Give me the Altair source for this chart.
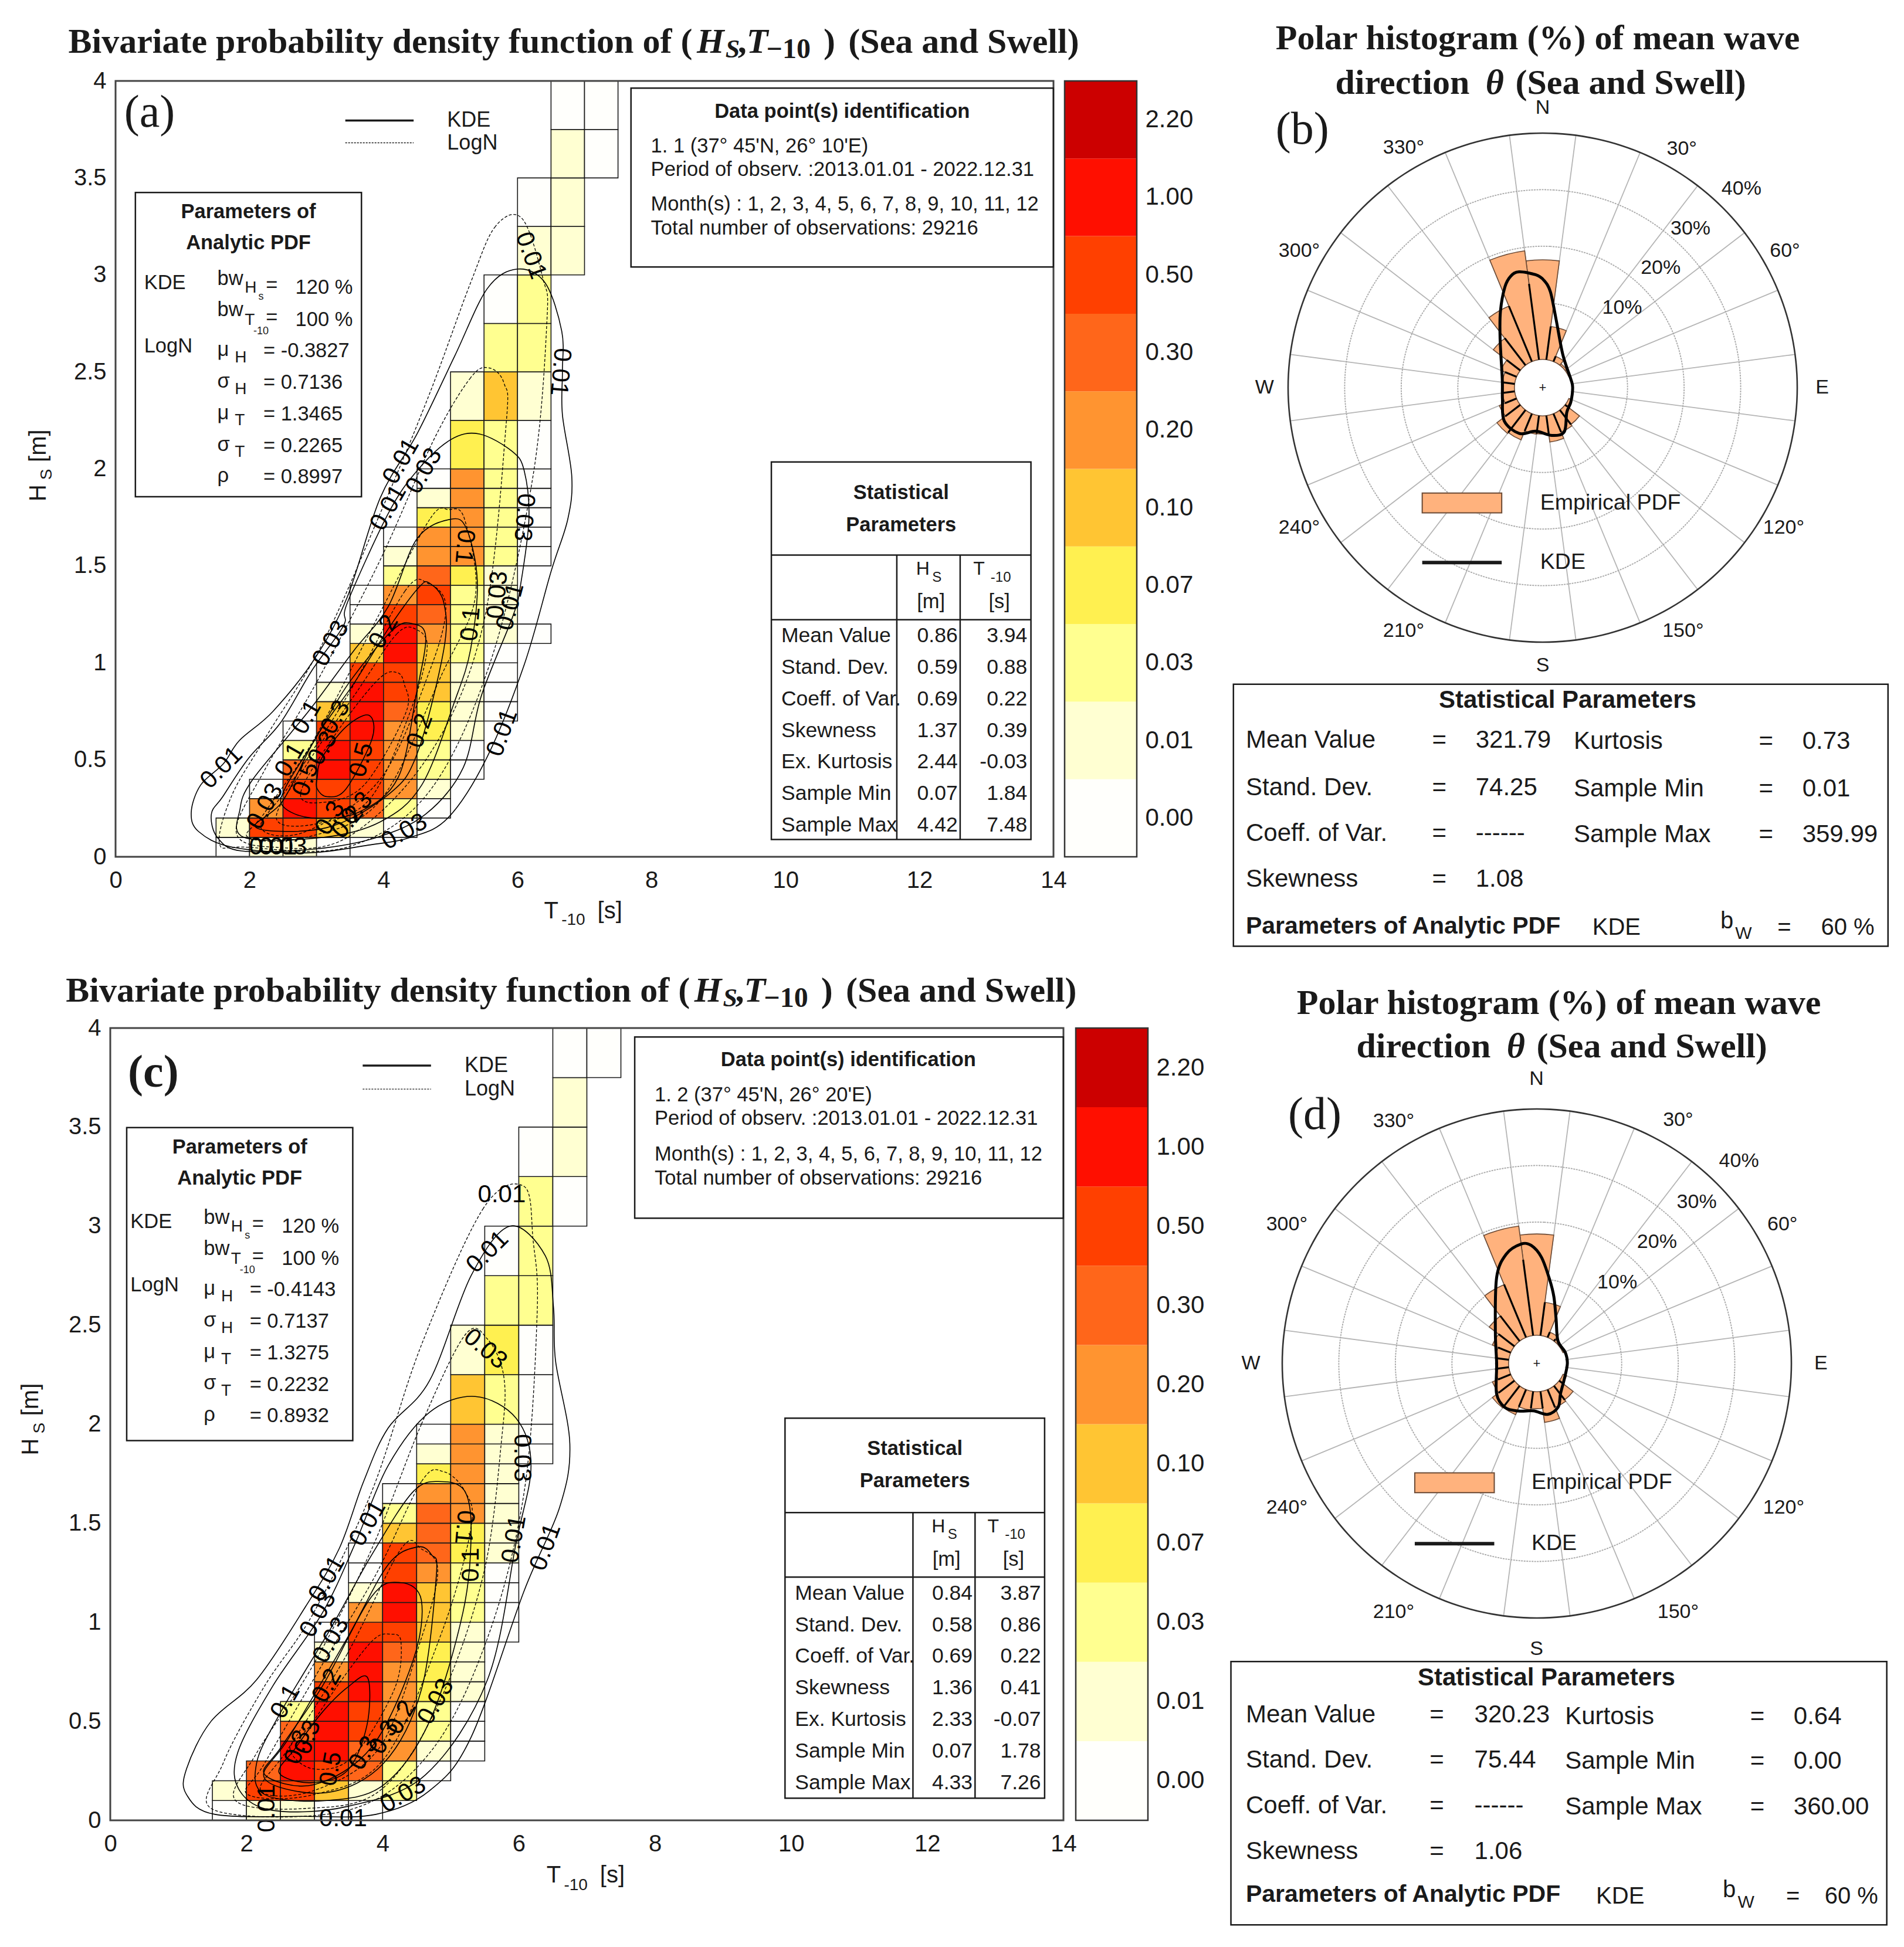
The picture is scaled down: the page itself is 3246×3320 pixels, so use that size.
import math
import numpy as np
import pandas as pd
import altair as alt

S = 2.1176
SANS = "Liberation Sans"
SERIF = "Liberation Serif"
INK = "#1a1a1a"
BODY = 34.5

LEVELS = ['0.00', '0.01', '0.03', '0.07', '0.10', '0.20', '0.30', '0.50', '1.00', '2.20']
LEVEL_COLORS = ['#fffffc', '#ffffd2', '#ffff90', '#fff050', '#ffc533', '#ff9430', '#ff661a', '#ff4000', '#ff0f00', '#cc0000']
H_EDGES = [0, .1, .2, .3, .4, .5, .6, .7, .8, .9, 1.0, 1.1, 1.2, 1.3, 1.4, 1.5, 1.6, 1.7, 1.8, 1.9, 2.0,
           2.25, 2.5, 2.75, 3.0, 3.25, 3.5, 3.75, 4.0]

# (T start, H start, level indexes going upward)
A_COLUMNS = [
    (1.5, 0, [0, 1]),
    (2.0, 0, [1, 7, 5, 0]),
    (2.5, 0, [1, 7, 8, 7, 6, 2, 0]),
    (3.0, 0, [0, 4, 7, 7, 8, 8, 7, 4, 1, 0]),
    (3.5, .1, [1, 6, 7, 7, 7, 8, 8, 8, 7, 4, 1, 0, 0]),
    (4.0, .1, [0, 2, 5, 5, 5, 5, 6, 7, 7, 8, 8, 7, 5, 2, 1, 0]),
    (4.5, .2, [0, 1, 2, 2, 3, 3, 4, 4, 4, 5, 6, 7, 6, 5, 5, 3, 1, 0]),
    (5.0, .4, [0, 0, 1, 1, 1, 1, 2, 2, 2, 2, 3, 5, 5, 5, 5, 5, 3, 1]),
    (5.5, .7, [0, 0, 0, 0, 1, 1, 1, 1, 2, 2, 2, 2, 2, 2, 4, 2, 0]),
    (6.0, 1.1, [0]),
    (6.0, 1.5, [0, 0, 0, 0, 0, 0, 1, 2, 2, 1, 0]),
    (6.5, 3.0, [1, 1, 1, 0]),
    (7.0, 3.5, [0, 0]),
]
C_COLUMNS = [
    (1.5, 0, [0, 1]),
    (2.0, 0, [1, 7, 6]),
    (2.5, 0, [1, 7, 8, 8, 6, 2]),
    (3.0, 0, [0, 4, 7, 8, 8, 8, 7, 5, 1, 0]),
    (3.5, 0, [0, 1, 6, 6, 7, 7, 8, 8, 8, 7, 5, 1, 0, 0]),
    (4.0, .1, [2, 2, 5, 5, 5, 5, 5, 6, 7, 8, 8, 7, 7, 4, 2, 0]),
    (4.5, .2, [0, 1, 2, 2, 3, 3, 3, 4, 4, 4, 5, 6, 6, 6, 5, 3, 1, 0]),
    (5.0, .3, [0, 0, 0, 1, 1, 1, 1, 2, 2, 2, 3, 3, 5, 5, 5, 5, 5, 4, 1]),
    (5.5, .9, [0, 0, 0, 0, 1, 1, 1, 1, 1, 1, 1, 2, 3, 2, 0]),
    (6.0, 1.8, [0, 0, 0, 0, 2, 2, 2, 0]),
    (6.5, 3.0, [0, 1, 1, 0]),
    (7.0, 3.75, [0]),
]

A_KDE_01 = [(1.27, .37), (1.61, .48), (1.85, .60), (2.35, .75), (2.97, 1.02), (3.46, 1.34), (3.95, 1.85), (4.50, 2.18), (5.06, 2.58), (5.55, 2.93), (6.00, 3.03), (6.41, 2.96), (6.66, 2.71), (6.67, 2.50), (6.67, 2.28), (6.81, 1.96), (6.75, 1.74), (6.50, 1.47), (6.10, .99), (5.54, .51), (4.96, .2), (4.4, .1), (3.77, .06), (2.84, .02), (1.74, .05), (1.24, .13), (1.13, .23)]
A_KDE_03 = [(1.43, .22), (1.60, .31), (1.99, .51), (2.46, .69), (2.93, .96), (3.40, 1.19), (3.46, 1.31), (4.07, 1.77), (4.50, 1.99), (5.0, 2.15), (5.43, 2.18), (5.92, 2.09), (6.10, 1.99), (6.17, 1.74), (6.04, 1.39), (5.93, 1.24), (5.46, .83), (5.19, .46), (4.63, .22), (3.9, .1), (2.97, .04), (1.88, .03), (1.52, .10)]
A_KDE_1 = [(1.86, .25), (2.03, .39), (2.62, .64), (2.97, .79), (3.55, 1.06), (4.07, 1.29), (4.5, 1.64), (5.0, 1.74), (5.24, 1.69), (5.40, 1.42), (5.30, 1.07), (5.06, .8), (4.57, .37), (3.95, .18), (3.09, .10), (1.92, .10)]
A_KDE_2 = [(2.5, .29), (3.0, .62), (3.55, .89), (4.1, 1.19), (4.53, 1.39), (4.69, 1.41), (4.9, 1.31), (4.9, 1.07), (4.50, .53), (4.07, .32), (3.15, .15), (2.1, .15)]
A_KDE_3 = [(2.5, .26), (2.93, .2), (3.63, .23), (4.22, .41), (4.49, .84), (4.63, 1.13), (4.45, 1.2), (4.14, 1.17), (3.47, .89), (2.97, .6), (2.54, .36)]
A_KDE_5 = [(3.01, .35), (3.16, .31), (3.44, .35), (3.83, .61), (3.78, .73), (3.44, .67), (3.08, .51), (3.01, .41)]
A_LOG_01 = [(6.07, 3.29), (5.67, 3.25), (5.3, 2.96), (4.69, 2.39), (3.95, 1.77), (3.09, 1.10), (2.23, .61), (1.74, .32), (1.55, .07), (1.92, .05), (3.46, .05), (4.69, .34), (5.61, 1.02), (6.23, 1.96), (6.44, 2.77), (6.38, 2.98)]
A_LOG_03 = [(5.58, 2.52), (5.3, 2.47), (4.75, 2.15), (3.95, 1.53), (2.97, .88), (2.23, .45), (1.8, .13), (2.35, .05), (3.46, .1), (4.69, .53), (5.49, 1.2), (5.83, 2.23), (5.8, 2.44)]
A_LOG_1 = [(4.97, 1.79), (4.69, 1.74), (3.95, 1.26), (2.97, .61), (2.23, .23), (1.98, .10), (2.84, .1), (3.95, .29), (4.87, .94), (5.37, 1.34), (5.21, 1.74)]
A_LOG_2 = [(4.66, 1.41), (4.32, 1.37), (3.46, .83), (2.6, .37), (2.17, .15), (2.84, .13), (3.95, .4), (4.69, .96), (4.93, 1.29)]
A_LOG_3 = [(4.5, 1.17), (4.2, 1.15), (3.6, .85), (2.9, .5), (2.4, .2), (3.0, .17), (3.8, .3), (4.4, .75), (4.65, 1.07)]
A_LOG_5 = [(4.2, .95), (3.94, .92), (3.4, .69), (2.77, .34), (3.08, .28), (3.71, .37), (4.33, .74), (4.31, .89)]

C_KDE_01 = [(5.87, 3.0), (5.3, 2.75), (4.69, 2.22), (4.08, 1.98), (3.72, 1.71), (3.36, 1.37), (2.87, 1.08), (2.15, .71), (1.48, .5), (1.12, .26), (1.12, .13), (1.54, .03), (2.87, .02), (3.9, .03), (4.69, .15), (5.3, .42), (6.08, 1.16), (6.6, 1.58), (6.75, 1.9), (6.54, 2.32), (6.51, 2.59), (6.39, 2.85)]
C_KDE_03 = [(5.96, 2.03), (5.36, 2.14), (4.69, 2.06), (4.08, 1.79), (3.6, 1.4), (3.12, 1.05), (2.39, .68), (1.87, .34), (1.9, .15), (2.39, .05), (3.48, .07), (4.63, .23), (5.54, .71), (5.96, 1.4), (6.18, 1.79)]
C_KDE_1 = [(4.87, 1.71), (4.45, 1.66), (3.84, 1.34), (3.24, .97), (2.51, .55), (2.15, .29), (2.27, .13), (3.18, .1), (4.02, .18), (4.69, .5), (5.18, 1.05), (5.3, 1.45), (5.21, 1.66)]
C_KDE_2 = [(4.51, 1.38), (4.08, 1.29), (3.48, .92), (2.63, .42), (2.27, .21), (3.18, .14), (4.02, .29), (4.57, .66), (4.79, 1.24), (4.72, 1.34)]
C_KDE_3 = [(4.27, 1.2), (3.84, 1.13), (3.12, .68), (2.51, .37), (2.27, .23), (2.99, .18), (3.84, .37), (4.45, .81), (4.57, 1.11)]
C_KDE_5 = [(3.78, .72), (3.48, .67), (3.1, .54), (2.71, .36), (2.48, .24), (2.94, .19), (3.48, .25), (3.77, .48)]
C_LOG_01 = [(6.08, 3.2), (5.48, 3.09), (4.57, 2.4), (3.84, 1.66), (2.99, 1.05), (2.27, .68), (1.66, .29), (1.54, .05), (3.48, .05), (4.69, .34), (5.54, .92), (6.08, 1.66), (6.27, 2.56), (6.21, 2.93)]
C_LOG_03 = [(5.21, 2.45), (4.57, 2.0), (3.84, 1.37), (2.99, .79), (2.15, .34), (1.84, .1), (2.87, .06), (3.96, .15), (4.81, .58), (5.48, 1.24), (5.75, 1.93), (5.78, 2.24), (5.54, 2.43)]
C_LOG_1 = [(4.9, 1.76), (4.57, 1.71), (3.9, 1.24), (3.12, .79), (2.27, .29), (2.02, .13), (2.99, .13), (4.02, .31), (4.87, .95), (5.3, 1.48), (5.21, 1.66)]
C_LOG_2 = [(4.27, 1.37), (3.48, .84), (2.63, .37), (2.21, .15), (2.99, .15), (3.96, .37), (4.57, .92), (4.81, 1.26), (4.57, 1.37)]
C_LOG_5 = [(4.11, .94), (3.86, .91), (3.4, .71), (2.94, .48), (2.64, .36), (2.98, .26), (3.56, .32), (4.17, .66), (4.27, .9)]

# contour labels: text, T, H, rotation
A_LABELS = [('0.01', 1.58, .46, -45), ('0.03', 3.21, 1.1, -60), ('0.1', 2.85, .72, -60), ('0.03', 2.23, .26, -60),
            ('0.3', 3.28, .72, -60), ('0.3', 3.09, .56, -60), ('0.5', 2.84, .40, -70), ('0.1', 2.6, .5, -60),
            ('0.5', 3.67, .5, -75), ('0.2', 4.0, 1.16, -60), ('0.01', 4.26, 2.04, -60), ('0.03', 4.6, 1.99, -60),
            ('0.01', 4.07, 1.8, -60), ('0.1', 5.21, 1.6, 95), ('0.1', 5.3, 1.2, -85), ('0.03', 5.7, 1.35, -85),
            ('0.01', 5.89, 1.29, -75), ('0.01', 5.77, .64, -70), ('0.2', 4.54, .65, -70), ('0.03', 4.31, .13, -30),
            ('0.2', 3.46, .18, -50), ('0.3', 3.2, .2, -60), ('0.3', 3.6, .25, -50), ('0.01', 6.2, 3.1, 70),
            ('0.01', 6.64, 2.5, 95), ('0.03', 6.1, 1.75, 95), ('0.01', 2.35, .05, 0), ('0.03', 2.5, .05, 0)]
C_LABELS = [('0.01', 5.75, 3.16, 0), ('0.01', 5.54, 2.87, -45), ('0.03', 5.51, 2.38, 40), ('0.03', 6.05, 1.83, 90),
            ('0.1', 5.2, 1.48, 95), ('0.1', 5.3, 1.29, -90), ('0.01', 5.93, 1.42, -80), ('0.01', 6.39, 1.38, -70),
            ('0.01', 3.78, 1.5, -60), ('0.01', 3.18, 1.22, -60), ('0.03', 3.05, 1.04, -60), ('0.03', 3.24, .91, -60),
            ('0.2', 3.18, .68, -60), ('0.1', 2.57, .6, -60), ('0.3', 2.9, .42, -70), ('0.3', 2.75, .37, -70),
            ('0.5', 3.24, .26, -80), ('0.3', 3.72, .34, -60), ('0.3', 4.02, .42, -60), ('0.2', 4.27, .52, -60),
            ('0.03', 4.78, .6, -60), ('0.03', 4.3, .13, -30), ('0.01', 3.42, .01, 0), ('0.01', 2.3, .06, -90)]

B_THETA = [0, 15, 30, 45, 60, 75, 90, 105, 120, 135, 150, 165, 180, 195, 210, 225, 240, 255, 270, 285, 300, 315, 330, 345]
B_BARS = [17.6, 5.9, 1.0, .3, .2, 0, 0, 0, .5, 3.2, 3.5, 4.7, 3.2, 3.3, 5.0, 5.2, 3.3, 2.2, 2.0, 2.2, 3.0, 6.0, 10.6, 19.4]
D_BARS = [17.9, 5.9, 1.0, .4, .1, 0, 0, 0, .7, 3.1, 3.4, 5.5, 3.0, 3.3, 4.8, 4.9, 3.5, 2.4, 2.3, 2.4, 3.5, 5.6, 10.1, 19.5]
B_KDE_T = [.6, 4.6, 11.3, 31.7, 72.6, 90, 117.5, 135.7, 154, 169, 189, 207, 229, 254, 282, 318.7, 331, 339.4, 344, 348.5, 356.4]
B_KDE_R = [14, 12, 7.2, 1.8, .2, .3, .6, 1.1, 3.7, 3.6, 2.8, 4.1, 4, 2.4, 2.3, 6.4, 10.4, 14, 15.5, 15.9, 15]
D_KDE_T = [2.5, 8.7, 14.3, 23, 42.7, 68, 90, 120, 142, 154, 168, 184, 201, 216, 233, 270, 308, 335, 344.5, 352.5, 357.3]
D_KDE_R = [13.8, 10, 7.2, 3.7, .5, .4, .4, .6, 1.8, 3.6, 4.2, 3.4, 4, 4.6, 3.9, 2.1, 4.3, 11.8, 15.1, 16.3, 15.9]

STAT_ROWS = ['Mean Value', 'Stand. Dev.', 'Coeff. of Var.', 'Skewness', 'Ex. Kurtosis', 'Sample Min', 'Sample Max']
A_HS = ['0.86', '0.59', '0.69', '1.37', '2.44', '0.07', '4.42']
A_TM = ['3.94', '0.88', '0.22', '0.39', '-0.03', '1.84', '7.48']
C_HS = ['0.84', '0.58', '0.69', '1.36', '2.33', '0.07', '4.33']
C_TM = ['3.87', '0.86', '0.22', '0.41', '-0.07', '1.78', '7.26']
A_PARAMS = ['-0.3827', '0.7136', '1.3465', '0.2265', '0.8997']
C_PARAMS = ['-0.4143', '0.7137', '1.3275', '0.2232', '0.8932']
B_DIR = ['321.79', '74.25', '------', '1.08', '0.73', '0.01', '359.99']
D_DIR = ['320.23', '75.44', '------', '1.06', '0.64', '0.00', '360.00']

ONE = pd.DataFrame({'k': [0]})


class Panel:
    def __init__(self, ox, oy):
        self.ox, self.oy = ox, oy
        self.items = []

    def anchor(self, x0, y0, x1, y1):
        self.items.append(alt.Chart(ONE).mark_rect(fill='white', opacity=0).encode(
            x=alt.value(x0 - self.ox), x2=alt.value(x1 - self.ox),
            y=alt.value(y0 - self.oy), y2=alt.value(y1 - self.oy)))

    def t(self, text, x, y, size=BODY, align='left', font=SANS, weight='normal', style='normal', angle=0, color=INK):
        mark = alt.Chart(ONE).mark_text(align=align, baseline='middle', font=font, fontSize=size, fontWeight=weight,
                                        fontStyle=style, angle=angle % 360, color=color)
        self.items.append(mark.encode(x=alt.value(x * S - self.ox), y=alt.value(y * S - self.oy), text=alt.value(text)))

    def box(self, x0, y0, x1, y1, fill='white', stroke=INK, sw=2.5):
        self.items.append(alt.Chart(ONE).mark_rect(fill=fill, stroke=stroke, strokeWidth=sw).encode(
            x=alt.value(x0 * S - self.ox), x2=alt.value(x1 * S - self.ox),
            y=alt.value(y0 * S - self.oy), y2=alt.value(y1 * S - self.oy)))

    def hl(self, x0, x1, y, sw=2.5, dash=None):
        kw = {'strokeDash': dash} if dash else {}
        self.items.append(alt.Chart(ONE).mark_rule(stroke=INK, strokeWidth=sw, **kw).encode(
            x=alt.value(x0 * S - self.ox), x2=alt.value(x1 * S - self.ox), y=alt.value(y * S - self.oy)))

    def vl(self, x, y0, y1, sw=2.5):
        self.items.append(alt.Chart(ONE).mark_rule(stroke=INK, strokeWidth=sw).encode(
            x=alt.value(x * S - self.ox), y=alt.value(y0 * S - self.oy), y2=alt.value(y1 * S - self.oy)))


def cells_frame(columns):
    rows = []
    for t0, h0, levels in columns:
        i0 = H_EDGES.index(h0)
        for j, lev in enumerate(levels):
            rows.append({'t0': t0, 't1': t0 + .5, 'h0': H_EDGES[i0 + j], 'h1': H_EDGES[i0 + j + 1], 'lev': LEVELS[lev]})
    return pd.DataFrame(rows)


def contour_frame(curves):
    rows = []
    for n, pts in enumerate(curves):
        for i, (t, h) in enumerate(pts):
            rows.append({'c': n, 'i': i, 'T': t, 'H': h})
    return pd.DataFrame(rows)


def heat_panel(p, w, h, columns, kde, logn, labels):
    xs = alt.Scale(domain=[0, 14], nice=False, zero=True)
    ys = alt.Scale(domain=[0, 4], nice=False, zero=True)
    cells = alt.Chart(cells_frame(columns)).mark_rect(stroke=INK, strokeWidth=1.6).encode(
        x=alt.X('t0:Q', scale=xs, axis=alt.Axis(values=list(range(0, 15, 2)), format='d', title=None, grid=False, ticks=False, domain=False,
                                                labelFontSize=40, labelFont=SANS, labelColor=INK, labelPadding=20, labelFlush=False)),
        x2='t1:Q',
        y=alt.Y('h0:Q', scale=ys, axis=alt.Axis(values=[0, .5, 1, 1.5, 2, 2.5, 3, 3.5, 4], format='~g', title=None, grid=False,
                                                ticks=False, domain=False, labelFontSize=40, labelFont=SANS,
                                                labelColor=INK, labelPadding=16, labelFlush=False)),
        y2='h1:Q',
        color=alt.Color('lev:N', scale=alt.Scale(domain=LEVELS, range=LEVEL_COLORS), legend=None))
    line_k = alt.Chart(contour_frame(kde)).mark_line(interpolate='cardinal-closed', stroke='black', strokeWidth=1.6, clip=True).encode(
        x=alt.X('T:Q', scale=xs), y=alt.Y('H:Q', scale=ys), detail='c:N', order='i:Q')
    line_l = alt.Chart(contour_frame(logn)).mark_line(interpolate='cardinal-closed', stroke='black', strokeWidth=1.3, strokeDash=[5, 3], clip=True).encode(
        x=alt.X('T:Q', scale=xs), y=alt.Y('H:Q', scale=ys), detail='c:N', order='i:Q')
    lab_df = pd.DataFrame(labels, columns=['txt', 'T', 'H', 'a'])
    lab_df['a'] = lab_df['a'] % 360
    lab = alt.Chart(lab_df).mark_text(font=SANS, fontSize=42, color='black', baseline='middle').encode(
        x=alt.X('T:Q', scale=xs), y=alt.Y('H:Q', scale=ys), text='txt:N', angle=alt.Angle('a:Q', scale=None))
    frame = alt.Chart(ONE).mark_rect(fill=None, stroke='#444', strokeWidth=3).encode(
        x=alt.value(0), x2=alt.value(w), y=alt.value(0), y2=alt.value(h))
    return alt.layer(cells, line_k, line_l, lab, frame, *p.items).properties(width=w, height=h)


def colorbar(w, h):
    df = pd.DataFrame({'lev': LEVELS})
    bars = alt.Chart(df).mark_rect().encode(
        y=alt.Y('lev:N', sort=LEVELS[::-1], scale=alt.Scale(paddingInner=0, paddingOuter=0),
                axis=alt.Axis(orient='right', title=None, ticks=False, domain=False, labelFontSize=42, labelFont=SANS,
                              labelColor=INK, labelPadding=14, labelAngle=0)),
        color=alt.Color('lev:N', scale=alt.Scale(domain=LEVELS, range=LEVEL_COLORS), legend=None))
    frame = alt.Chart(ONE).mark_rect(fill=None, stroke='#333', strokeWidth=2.5).encode(
        x=alt.value(0), x2=alt.value(w), y=alt.value(0), y2=alt.value(h))
    return alt.layer(bars, frame).properties(width=w, height=h)


def polar_panel(p, w, h, cy, bars, kde_t, kde_r):
    k = w / 90.0
    xs = alt.Scale(domain=[-45, 45], nice=False, zero=False)
    ys = alt.Scale(domain=[-(h - cy) / k, cy / k], nice=False, zero=False)
    rs = alt.Scale(domain=[-5, 40], range=[0, w / 2], zero=False, nice=False)
    ts = alt.Scale(domain=[0, 360], range=[0, 2 * math.pi])

    def xy(r, deg):
        return (r + 5) * math.sin(math.radians(deg)), (r + 5) * math.cos(math.radians(deg))

    spokes = []
    for n, deg in enumerate(np.arange(7.5, 360, 15)):
        for i, r in enumerate([0, 40]):
            a, b = xy(r, deg)
            spokes.append({'n': n, 'i': i, 'x': a, 'y': b})
    rings = []
    for r in [10, 20, 30, 40]:
        for i, deg in enumerate(np.arange(0, 360, 3)):
            a, b = xy(r, deg)
            rings.append({'n': r, 'i': i, 'x': a, 'y': b})
    rings = pd.DataFrame(rings)
    enc = dict(x=alt.X('x:Q', scale=xs, axis=None), y=alt.Y('y:Q', scale=ys, axis=None), detail='n:N', order='i:Q')
    spoke_l = alt.Chart(pd.DataFrame(spokes)).mark_line(stroke='#b5b5b5', strokeWidth=1.8).encode(**enc)
    ring_l = alt.Chart(rings[rings.n < 40]).mark_line(interpolate='cardinal-closed', stroke='#a8a8a8', strokeWidth=1.8, strokeDash=[3, 1.5]).encode(**enc)
    outer = alt.Chart(rings[rings.n == 40]).mark_line(interpolate='cardinal-closed', stroke='#333', strokeWidth=2.6).encode(**enc)
    bdf = pd.DataFrame({'t0': [t - 7.5 for t in B_THETA], 't1': [t + 7.5 for t in B_THETA], 'r0': 0.0, 'r1': bars, 'x0': 0.0, 'y0': 0.0})
    bdf = bdf[bdf.r1 > 0]
    wedges = alt.Chart(bdf).mark_arc(fill='#ffb27d', stroke='#6b4a35', strokeWidth=1.6).encode(
        x=alt.X('x0:Q', scale=xs, axis=None), y=alt.Y('y0:Q', scale=ys, axis=None),
        theta=alt.Theta('t0:Q', scale=ts, stack=None), theta2='t1:Q',
        radius=alt.Radius('r1:Q', scale=rs), radius2='r0:Q')
    seps = []
    for n, t in enumerate(B_THETA):
        nb = bars[(n + 1) % len(bars)]
        top = min(bars[n], nb, 13.5)
        if top > 0.3:
            for i, r in enumerate([0, top]):
                a, b = xy(r, t + 7.5)
                seps.append({'n': n, 'i': i, 'x': a, 'y': b})
    sep_l = alt.Chart(pd.DataFrame(seps)).mark_line(stroke='black', strokeWidth=3.2).encode(**enc)
    kde = []
    for i, (t, r) in enumerate(zip(kde_t, kde_r)):
        a, b = xy(r, t)
        kde.append({'n': 0, 'i': i, 'x': a, 'y': b})
    kde_l = alt.Chart(pd.DataFrame(kde)).mark_line(interpolate='cardinal-closed', stroke='black', strokeWidth=5).encode(**enc)
    plus = alt.Chart(pd.DataFrame({'x': [0], 'y': [0]})).mark_text(text='+', fontSize=22, font=SANS, color=INK, baseline='middle').encode(
        x=alt.X('x:Q', scale=xs, axis=None), y=alt.Y('y:Q', scale=ys, axis=None))
    return alt.layer(spoke_l, ring_l, outer, wedges, sep_l, kde_l, plus, *p.items).properties(width=w, height=h)


def heat_title(p, x, y):
    kw = dict(font=SERIF, weight='bold', size=60)
    p.t('Bivariate probability density function of', x, y, **kw)
    p.t('(', x + 493, y, **kw)
    p.t('H', x + 506, y, style='italic', **kw)
    p.t('S', x + 529, y + 6, font=SERIF, weight='bold', style='italic', size=44)
    p.t(',', x + 539, y, **kw)
    p.t('T', x + 546, y, style='italic', **kw)
    p.t('−10', x + 562, y + 6, font=SERIF, weight='bold', size=48)
    p.t(')', x + 608, y, **kw)
    p.t('(Sea and Swell)', x + 628, y, **kw)


def polar_title(p, cx, y1, y2, x2):
    kw = dict(font=SERIF, weight='bold', size=60)
    p.t('Polar histogram (%) of mean wave', cx, y1, align='center', **kw)
    p.t('direction', x2, y2, **kw)
    p.t('θ', x2 + 121, y2, style='italic', **kw)
    p.t('(Sea and Swell)', x2 + 145, y2, **kw)


def param_box(p, x0, y0, x1, y1, dx, dy, vals):
    c = (x0 + x1) / 2
    p.box(x0, y0, x1, y1)
    p.t('Parameters of', c, y0 + 16, align='center', weight='bold')
    p.t('Analytic PDF', c, y0 + 41, align='center', weight='bold')
    X = x0 + dx
    p.t('KDE', X + 7, y0 + dy + 73)
    p.t('bw', X + 66, y0 + dy + 70)
    p.t('H', X + 88, y0 + dy + 77, size=28)
    p.t('s', X + 99, y0 + dy + 84, size=18)
    p.t('=', X + 105, y0 + dy + 75)
    p.t('120 %', X + 175, y0 + dy + 77, align='right')
    p.t('bw', X + 66, y0 + dy + 95)
    p.t('T', X + 88, y0 + dy + 103, size=28)
    p.t('-10', X + 95, y0 + dy + 112, size=18)
    p.t('=', X + 105, y0 + dy + 101)
    p.t('100 %', X + 175, y0 + dy + 103, align='right')
    p.t('LogN', X + 7, y0 + dy + 124)
    names = [('μ', 'H'), ('σ', 'H'), ('μ', 'T'), ('σ', 'T'), ('ρ', '')]
    for i, ((g, sub), v) in enumerate(zip(names, vals)):
        y = y0 + dy + 128 + i * 25.4
        p.t(g, X + 66, y - 1)
        if sub:
            p.t(sub, X + 80, y + 5, size=28)
        p.t('=  ' + v if not v.startswith('-') else '= ' + v, X + 103, y)


def stat_table(p, x0, x1, xa, xb, ys, rows, hs, tm, right_a, right_b, labx):
    p.box(x0, ys[0], x1, ys[3])
    p.hl(x0, x1, ys[1])
    p.hl(x0, x1, ys[2])
    p.vl(xa, ys[1], ys[3])
    p.vl(xb, ys[1], ys[3])
    c = (x0 + x1) / 2
    p.t('Statistical', c, ys[0] + 25, align='center', weight='bold')
    p.t('Parameters', c, ys[0] + 51, align='center', weight='bold')
    ca, cb = (xa + xb) / 2, (xb + x1) / 2
    p.t('H', ca - 10, ys[1] + 11, size=32)
    p.t('S', ca + 3, ys[1] + 18, size=24)
    p.t('[m]', ca + 2, ys[1] + 38, align='center')
    p.t('T', cb - 18, ys[1] + 11, size=32)
    p.t('-10', cb - 4, ys[1] + 18, size=24)
    p.t('[s]', cb + 3, ys[1] + 38, align='center')
    for i in range(7):
        y = rows + i * 25.4
        p.t(STAT_ROWS[i], labx, y, size=35.5)
        p.t(hs[i], right_a, y, size=35.5, align='right')
        p.t(tm[i], right_b, y, size=35.5, align='right')


def dir_box(p, x0, y0, x1, y1, tc, ys, cols, last, vals):
    p.box(x0, y0, x1, y1)
    p.t('Statistical Parameters', tc, y0 + 13, size=42, align='center', weight='bold')
    names1 = ['Mean Value', 'Stand. Dev.', 'Coeff. of Var.', 'Skewness']
    names2 = ['Kurtosis', 'Sample Min', 'Sample Max']
    for i in range(4):
        p.t(names1[i], cols[0], ys[i], size=42)
        p.t('=', cols[1], ys[i], size=42)
        p.t(vals[i], cols[2], ys[i], size=42)
    for i in range(3):
        p.t(names2[i], cols[3], ys[i] + 1, size=42)
        p.t('=', cols[4], ys[i] + 1, size=42)
        p.t(vals[4 + i], cols[5], ys[i] + 1, size=42)
    p.t('Parameters of Analytic PDF', cols[0], ys[4], size=41, weight='bold')
    p.t('KDE', last[0], ys[4] + 1, size=40)
    p.t('b', last[1], ys[4] - 4, size=40)
    p.t('W', last[1] + 12, ys[4] + 6, size=30)
    p.t('=', last[2], ys[4] + 1, size=40)
    p.t('60 %', last[3], ys[4] + 1, size=40)


def spacer(w, h=1):
    return alt.Chart(ONE).mark_point(opacity=0).encode(x=alt.value(0), y=alt.value(0)).properties(width=w, height=h)


# ---- panel (a)
pa = Panel(197, 138)
pa.anchor(8, 8, 3238, 1640)
heat_title(pa, 55, 34)
pa.t('(a)', 100, 91, size=78, font=SERIF)
pa.hl(278, 333, 97, sw=3.5)
pa.hl(278, 333, 115, sw=1.4, dash=[3, 2])
pa.t('KDE', 360, 97, size=36)
pa.t('LogN', 360, 115, size=36)
param_box(pa, 109, 155, 291, 400, 0, 0, A_PARAMS)
pa.box(508, 71, 848, 215)
pa.t('Data point(s) identification', 678, 90, align='center', weight='bold')
pa.t("1. 1  (37° 45'N, 26° 10'E)", 524, 118)
pa.t('Period of observ. :2013.01.01 - 2022.12.31', 524, 137)
pa.t('Month(s) : 1, 2, 3, 4, 5, 6, 7, 8, 9, 10, 11, 12', 524, 165)
pa.t('Total number of observations: 29216', 524, 184)
stat_table(pa, 621, 830, 722, 773, [372, 447, 499, 676], 512, A_HS, A_TM, 771, 827, 629)
pa.t('T', 438, 734, size=40)
pa.t('-10', 452, 741, size=28)
pa.t('[s]', 481, 734, size=40)
pa.t('H', 31, 397, size=40, angle=-90, align='center')
pa.t('S', 38, 382, size=28, angle=-90, align='center')
pa.t('[m]', 31, 359, size=40, angle=-90, align='center')

# ---- panel (c)
pc = Panel(188, 1753)
pc.anchor(8, 1640, 3238, 3312)
heat_title(pc, 53, 798)
pc.t('(c)', 103, 864, size=78, font=SERIF, weight='bold')
pc.hl(292, 347, 858, sw=3.5)
pc.hl(292, 347, 877, sw=1.4, dash=[3, 2])
pc.t('KDE', 374, 858, size=36)
pc.t('LogN', 374, 877, size=36)
param_box(pc, 102, 908, 284, 1160, -4, 3, C_PARAMS)
pc.box(511, 835, 856, 981)
pc.t('Data point(s) identification', 683, 854, align='center', weight='bold')
pc.t("1. 2  (37° 45'N, 26° 20'E)", 527, 882)
pc.t('Period of observ. :2013.01.01 - 2022.12.31', 527, 901)
pc.t('Month(s) : 1, 2, 3, 4, 5, 6, 7, 8, 9, 10, 11, 12', 527, 930)
pc.t('Total number of observations: 29216', 527, 949)
stat_table(pc, 632, 841, 735, 785, [1142, 1218, 1270, 1448], 1283, C_HS, C_TM, 783, 838, 640)
pc.t('T', 440, 1510, size=40)
pc.t('-10', 454, 1518, size=28)
pc.t('[s]', 483, 1510, size=40)
pc.t('H', 25, 1165, size=40, angle=-90, align='center')
pc.t('S', 32, 1150, size=28, angle=-90, align='center')
pc.t('[m]', 25, 1127, size=40, angle=-90, align='center')

# ---- panel (b)
pb = Panel(2196, 138)
polar_title(pb, 1238, 31, 67, 1075)
pb.t('(b)', 1027, 105, size=78, font=SERIF)
POLAR_B = [('N', 1242, 87), ('330°', 1130, 119), ('30°', 1354, 120), ('40%', 1402, 152), ('30%', 1361, 184), ('20%', 1337, 216),
           ('10%', 1306, 248), ('60°', 1437, 202), ('300°', 1046, 202), ('W', 1018, 312), ('E', 1467, 312), ('120°', 1436, 425),
           ('240°', 1046, 425), ('150°', 1355, 508), ('210°', 1130, 508), ('S', 1242, 536)]
for s, x, y in POLAR_B:
    pb.t(s, x, y, size=34, align='center')
pb.box(1145, 397, 1209, 413, fill='#ffb27d', stroke='#6b4a35', sw=2)
pb.t('Empirical PDF', 1240, 405, size=37.5)
pb.hl(1145, 1209, 453, sw=6)
pb.t('KDE', 1240, 453, size=37.5)
dir_box(pb, 993, 551, 1520, 762, 1262, [596, 634, 671, 708, 746], [1003, 1153, 1188, 1267, 1416, 1451], [1282, 1385, 1431, 1466], B_DIR)

# ---- panel (d)
pd_ = Panel(2186, 1753)
polar_title(pd_, 1255, 808, 843, 1092)
pd_.t('(d)', 1037, 898, size=78, font=SERIF)
POLAR_D = [('N', 1237, 869), ('330°', 1122, 903), ('30°', 1351, 902), ('40%', 1400, 935), ('30%', 1366, 968), ('20%', 1334, 1000),
           ('10%', 1302, 1033), ('60°', 1435, 986), ('300°', 1036, 986), ('W', 1007, 1098), ('E', 1466, 1098), ('120°', 1436, 1214),
           ('240°', 1036, 1214), ('150°', 1351, 1298), ('210°', 1122, 1298), ('S', 1237, 1328)]
for s, x, y in POLAR_D:
    pd_.t(s, x, y, size=34, align='center')
pd_.box(1139, 1186, 1203, 1202, fill='#ffb27d', stroke='#6b4a35', sw=2)
pd_.t('Empirical PDF', 1233, 1194, size=37.5)
pd_.hl(1139, 1203, 1243, sw=6)
pd_.t('KDE', 1233, 1243, size=37.5)
dir_box(pd_, 991, 1338, 1519, 1550, 1245, [1381, 1417, 1454, 1491, 1526], [1003, 1151, 1187, 1260, 1409, 1444], [1285, 1387, 1438, 1469], D_DIR)

a = heat_panel(pa, 1599, 1323, A_COLUMNS, [A_KDE_01, A_KDE_03, A_KDE_1, A_KDE_2, A_KDE_3, A_KDE_5],
               [A_LOG_01, A_LOG_03, A_LOG_1, A_LOG_2, A_LOG_3, A_LOG_5], A_LABELS)
c = heat_panel(pc, 1625, 1351, C_COLUMNS, [C_KDE_01, C_KDE_03, C_KDE_1, C_KDE_2, C_KDE_3, C_KDE_5],
               [C_LOG_01, C_LOG_03, C_LOG_1, C_LOG_2, C_LOG_5], C_LABELS)
b = polar_panel(pb, 868, 1323, 661 - 138, B_BARS, B_KDE_T, B_KDE_R)
d = polar_panel(pd_, 868, 1351, 2325 - 1753, D_BARS, D_KDE_T, D_KDE_R)

row1 = alt.hconcat(spacer(9), a, spacer(19), colorbar(123, 1323), spacer(258), b, spacing=0, bounds='flush').resolve_scale(color='independent')
row2 = alt.hconcat(c, spacer(21), colorbar(123, 1351), spacer(229), d, spacing=0, bounds='flush').resolve_scale(color='independent')
chart = alt.vconcat(row1, row2, spacing=0).properties(padding=0, background='white').configure_view(stroke=None).resolve_scale(color='independent')

chart.save("out.html", embed_options={"renderer": "svg", "actions": False})
